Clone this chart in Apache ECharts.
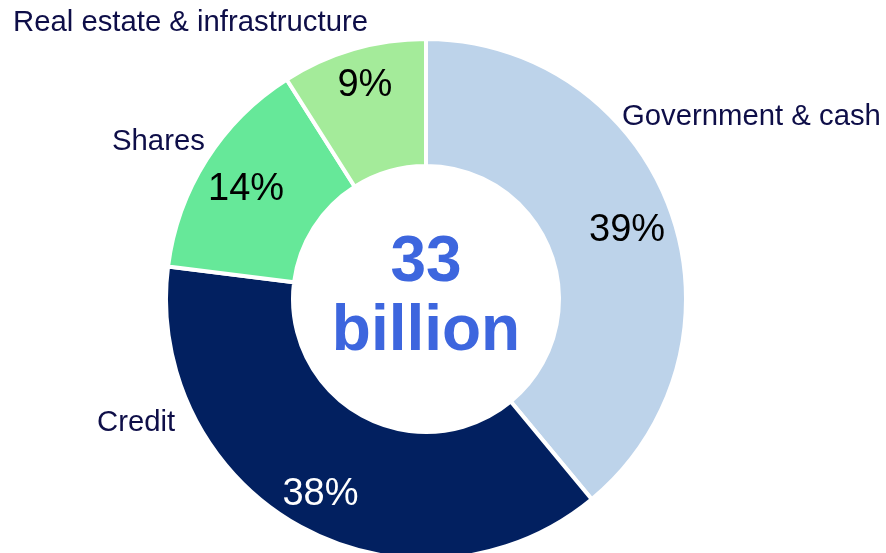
<!DOCTYPE html>
<html>
<head>
<meta charset="utf-8">
<style>
html,body{margin:0;padding:0;background:#fff;}
#chart{width:886px;height:553px;}
</style>
<script src="https://cdn.jsdelivr.net/npm/echarts@6/dist/echarts.min.js"></script>
</head>
<body>
<div id="chart"></div>
<script>
const categories = ['Government & cash', 'Credit', 'Shares', 'Real estate & infrastructure'];
const shares = [39, 38, 14, 9];
const totalLabel = '33\nbillion';

const colors = ['#BDD3EA', '#022060', '#66E899', '#A4EB9A'];
const pctColors = ['#000000', '#FFFFFF', '#000000', '#000000'];
const outerLabelPos = [
  {x: 622, y: 117},
  {x: 97, y: 423},
  {x: 112, y: 142},
  {x: 13, y: 23}
];
const pctNudge = [
  {dx: -5, dy: 6},
  {dx: 0, dy: 4},
  {dx: 5, dy: 8},
  {dx: 0, dy: -3}
];
const FONT = 'Liberation Sans, Arial, sans-serif';

const chart = echarts.init(document.getElementById('chart'));
const cx = 426, cy = 299;

chart.setOption({
  animation: false,
  series: [
    {
      type: 'pie',
      center: [cx, cy],
      radius: [133, 260],
      startAngle: 90,
      clockwise: true,
      itemStyle: {borderColor: '#ffffff', borderWidth: 4},
      label: {
        show: true,
        position: 'outside',
        formatter: '{b}',
        fontFamily: FONT,
        fontSize: 29.3,
        color: '#0E0E48',
        overflow: 'none',
        width: 400
      },
      labelLine: {show: false},
      labelLayout: function (p) {
        const pos = outerLabelPos[p.dataIndex];
        return {x: pos.x, y: pos.y, align: 'left', verticalAlign: 'middle'};
      },
      emphasis: {disabled: true},
      data: categories.map((c, i) => ({name: c, value: shares[i], itemStyle: {color: colors[i]}}))
    },
    {
      type: 'pie',
      center: [cx, cy],
      radius: [172, 260],
      startAngle: 90,
      clockwise: true,
      silent: true,
      itemStyle: {color: 'rgba(0,0,0,0)'},
      label: {
        show: true,
        position: 'inside',
        formatter: p => p.value + '%',
        fontFamily: FONT,
        fontSize: 38
      },
      labelLine: {show: false},
      labelLayout: function (p) {
        return pctNudge[p.dataIndex];
      },
      emphasis: {disabled: true},
      data: categories.map((c, i) => ({name: c, value: shares[i], label: {color: pctColors[i]}}))
    }
  ],
  graphic: [{
    type: 'text',
    x: cx,
    y: cy - 1,
    style: {
      text: totalLabel,
      align: 'center',
      verticalAlign: 'middle',
      font: 'bold 64px ' + FONT,
      lineHeight: 69,
      fill: '#3D66DE'
    }
  }]
});
</script>
</body>
</html>
